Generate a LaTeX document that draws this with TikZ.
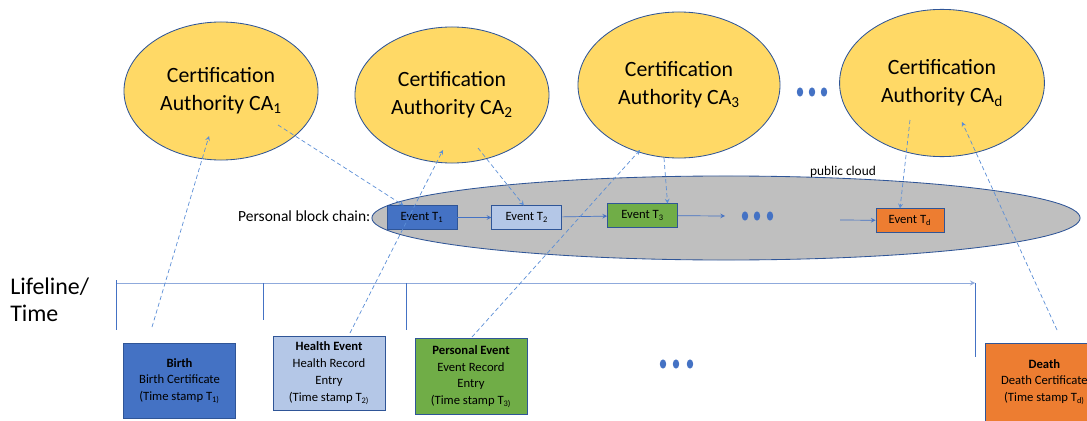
\documentclass[tikz,border=0pt]{standalone}
\usepackage{fontspec}
\setmainfont{Carlito}
\usepackage{tikz}
\usetikzlibrary{positioning}
\usetikzlibrary{shapes.geometric}
\usetikzlibrary{calc}
\definecolor{cayellow}{HTML}{FFD966}
\definecolor{edgeblue}{HTML}{2F5597}
\definecolor{linkblue}{HTML}{4472C4}
\definecolor{dashblue}{HTML}{5B8ED6}
\definecolor{axisblue}{HTML}{8FAADC}
\definecolor{cloudgray}{HTML}{BFBFBF}
\definecolor{evdark}{HTML}{4472C4}
\definecolor{evlight}{HTML}{B4C7E7}
\definecolor{evgreen}{HTML}{70AD47}
\definecolor{evorange}{HTML}{ED7D31}
\tikzset{
    lifeline diagram/.style={
            x=0.025cm,y=-0.025cm,
            authority/.style={ellipse,draw=edgeblue,line width=0.6pt,fill=cayellow,
                minimum width=4.85cm,minimum height=3.45cm,align=center,
                font=\fontsize{15.5}{20}\selectfont},
            chainevent/.style={draw=edgeblue,line width=0.6pt,minimum width=1.75cm,
                minimum height=0.58cm,inner sep=0pt,font=\fontsize{9}{10}\selectfont},
            record/.style={draw=edgeblue,line width=0.6pt,minimum width=2.8cm,
                minimum height=1.88cm,align=center,inner sep=0pt,
                font=\fontsize{9}{12}\selectfont},
            link/.style={-stealth,linkblue,line width=0.5pt},
            certify/.style={-stealth,dashblue,line width=0.5pt,dash pattern=on 3pt off 2pt},
            tick/.style={linkblue,line width=0.6pt}
        }
}

\begin{document}
\begin{tikzpicture}[lifeline diagram]
    \clip (0,0) rectangle (1087,421);

    \node (ca1) [authority] at (221,91) {Certification\\Authority CA\textsubscript{1}};
    \node (ca2) [authority,minimum height=3.4cm] at (452,95) {Certification\\Authority CA\textsubscript{2}};
    \node (ca3) [authority,minimum width=5.05cm,minimum height=3.65cm] at (679,85) {Certification\\Authority CA\textsubscript{3}};
    \node (cad) [authority,minimum width=5.12cm,minimum height=3.68cm] at (942,83) {Certification\\Authority CA\textsubscript{d}};
    \foreach \x in {800,812,824} \fill[linkblue] (\x,92) ellipse (3.2 and 4.6);

    \node (cloud) [ellipse,draw=edgeblue,line width=0.6pt,fill=cloudgray,minimum width=17.7cm,minimum height=2.1cm] at (726,218) {};
    \node (cloudlabel) at (843,172) {\fontsize{9.5}{11}\selectfont public cloud};
    \node (chainlabel) [anchor=east,inner sep=1pt] at (372,216) {\fontsize{11}{13}\selectfont Personal block chain:};

    \node (ev1) [chainevent,fill=evdark] at (422,217.5) {Event T\textsubscript{1}};
    \node (ev2) [chainevent,fill=evlight,right=0.85cm of ev1] {Event T\textsubscript{2}};
    \node (ev3) [chainevent,fill=evgreen,right=1.12cm of ev2,yshift=0.05cm] {Event T\textsubscript{3}};
    \node (evd) [chainevent,fill=evorange,minimum width=1.7cm] at (910,220.5) {Event T\textsubscript{d}};
    \coordinate (chainout) at (725,216);
    \coordinate (chainin) at (840,220);
    \draw [link] (ev1) -- (ev2);
    \draw [link] (ev2) -- (ev3);
    \draw [link] (ev3) -- (chainout);
    \draw [link] (chainin) -- (evd);
    \foreach \x in {745,757,770} \fill[linkblue] (\x,216) ellipse (3.2 and 4.6);

    \node (lifeline) [anchor=west,align=left,inner sep=0pt,font=\fontsize{17}{19}\selectfont] at (10,300) {Lifeline/\\Time};
    \coordinate (tl0) at (116,283);
    \coordinate (tl1) at (975,283);
    \draw [-stealth,axisblue,line width=0.6pt] (tl0) -- (tl1);
    \draw [tick] (116,280) -- (116,330);
    \draw [tick] (263,283) -- (263,320);
    \draw [tick] (406,283) -- (406,330);
    \draw [tick] (975,283) -- (975,357);

    \node (birth) [record,fill=evdark] at (179.5,381) {\textbf{Birth}\\Birth Certificate\\(Time stamp T\textsubscript{1)}};
    \node (health) [record,fill=evlight,minimum height=1.85cm] at (329,373) {\textbf{Health Event}\\Health Record\\Entry\\(Time stamp T\textsubscript{2)}};
    \node (personal) [record,fill=evgreen] at (471,376.5) {\textbf{Personal Event}\\Event Record\\Entry\\(Time stamp T\textsubscript{3)}};
    \node (death) [record,fill=evorange,minimum width=2.95cm,minimum height=1.95cm,anchor=west] at (985,382) {\textbf{Death}\\Death Certificate\\(Time stamp T\textsubscript{d)}};
    \foreach \x in {663,676,690} \fill[linkblue] (\x,364) ellipse (3.2 and 4.6);

    \coordinate (birthup) at (152,327);
    \coordinate (healthup) at (350,333);
    \coordinate (personalup) at (472,337);
    \coordinate (deathup) at (1057,330);
    \draw [certify] (birthup) -- ($(ca1)+(-12,45)$);
    \draw [certify] ($(ca1)+(57,34)$) -- ($(ev1.north west)+(17,0)$);
    \draw [certify] (healthup) -- ($(ca2)+(-9,55)$);
    \draw [certify] ($(ca2)+(26,53)$) -- ($(ev2.north)+(-3,0)$);
    \draw [certify] (personalup) -- ($(ca3)+(-39,65)$);
    \draw [certify] ($(ca3)+(-15,73)$) -- ($(ev3.north)+(25,0)$);
    \draw [certify] ($(cad)+(-32,37)$) -- ($(evd.north)+(-10,0)$);
    \draw [certify] (deathup) -- ($(cad)+(20,39)$);
\end{tikzpicture}
\end{document}
